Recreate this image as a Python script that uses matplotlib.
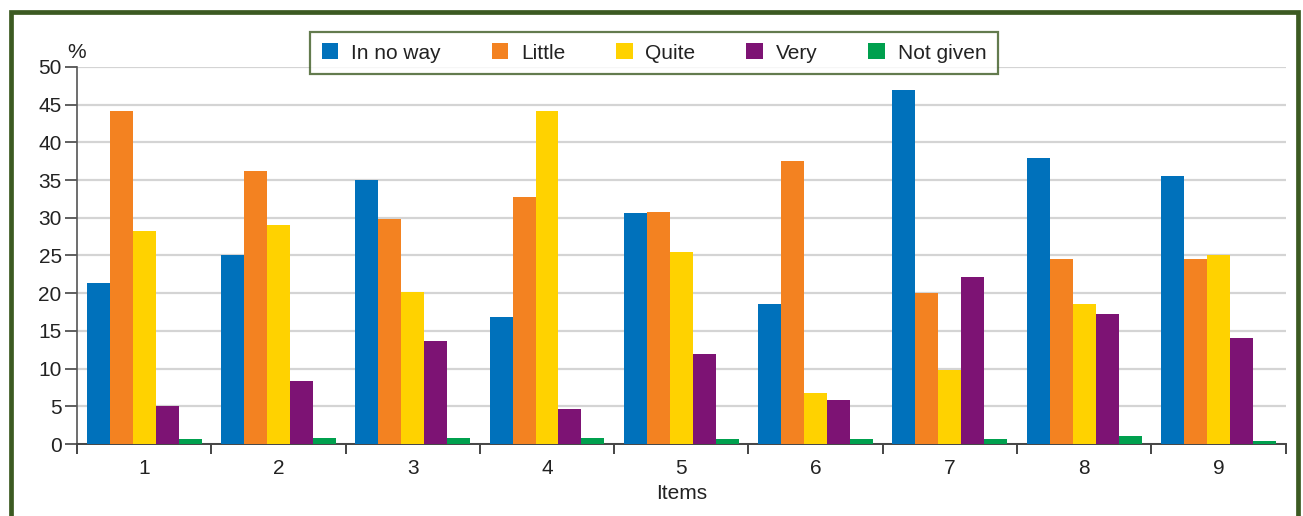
import numpy as np
import matplotlib
matplotlib.use("Agg")
import matplotlib.pyplot as plt
from matplotlib.patches import Rectangle

plt.rcParams['font.family'] = ['Liberation Sans', 'DejaVu Sans']

items = ['1', '2', '3', '4', '5', '6', '7', '8', '9']
series = ['In no way', 'Little', 'Quite', 'Very', 'Not given']
colors = ['#0071BB', '#F38221', '#FFD200', '#7D1374', '#00A04E']

in_no_way = [21.3, 25.0, 35.0, 16.8, 30.7, 18.6, 46.9, 37.9, 35.6]
little = [44.1, 36.2, 29.9, 32.8, 30.8, 37.5, 20.0, 24.5, 24.5]
quite = [28.2, 29.1, 20.2, 44.1, 25.4, 6.8, 9.8, 18.6, 25.0]
very = [5.0, 8.4, 13.7, 4.7, 11.9, 5.9, 22.2, 17.3, 14.0]
not_given = [0.7, 0.8, 0.8, 0.8, 0.7, 0.7, 0.7, 1.0, 0.4]
values = [in_no_way, little, quite, very, not_given]

fig = plt.figure(figsize=(13.03, 5.16), dpi=100)
ax = fig.add_axes([0.0591, 0.1395, 0.9275, 0.7307])

x = np.arange(len(items))
w = 0.171
for i, (name, vals, c) in enumerate(zip(series, values, colors)):
    ax.bar(x + (i - 2) * w, vals, width=w, color=c, label=name, zorder=3)

ax.set_xlim(-0.5, len(items) - 0.5)
ax.set_ylim(0, 50)
ax.set_yticks(np.arange(0, 51, 5))
ax.yaxis.grid(True, color='#d4d4d4', linewidth=1.6, zorder=0)

ax.set_xticks(x)
ax.set_xticklabels(items)
ax.set_xticks(np.arange(-0.5, len(items)), minor=True)
ax.tick_params(axis='x', which='major', length=0, pad=11, labelsize=15, colors='#222222')
ax.tick_params(axis='x', which='minor', length=7, width=1.4, color='#444444', direction='out')
ax.tick_params(axis='y', length=9, width=1.2, color='#444444', labelsize=15, labelcolor='#222222', pad=2)

for side in ['top', 'right']:
    ax.spines[side].set_visible(False)
ax.spines['left'].set_color('#555555')
ax.spines['left'].set_linewidth(1.2)
ax.spines['bottom'].set_color('#444444')
ax.spines['bottom'].set_linewidth(1.4)

ax.set_xlabel('Items', fontsize=15, color='#222222', labelpad=4)
ax.text(-0.008, 1.012, '%', transform=ax.transAxes, fontsize=15, color='#222222',
        ha='left', va='bottom')

leg = fig.legend(loc='center', bbox_to_anchor=(654 / 1303, 1 - 53 / 516), ncol=5,
                 fontsize=15, frameon=True, fancybox=False, handlelength=0.8,
                 handleheight=0.8, handletextpad=0.6, columnspacing=2.45,
                 borderpad=0.55, borderaxespad=0)
frame = leg.get_frame()
frame.set_edgecolor('#3C5A22')
frame.set_linewidth(1.6)
for t in leg.get_texts():
    t.set_color('#222222')

# outer frame around the figure
fig.patches.append(Rectangle((10.5 / 1303, -0.05), 1287 / 1303, 1.05 - 12 / 516,
                             transform=fig.transFigure, fill=False,
                             edgecolor='#3C5A22', linewidth=3.4, zorder=10))

fig.savefig('out.png', dpi=100)
